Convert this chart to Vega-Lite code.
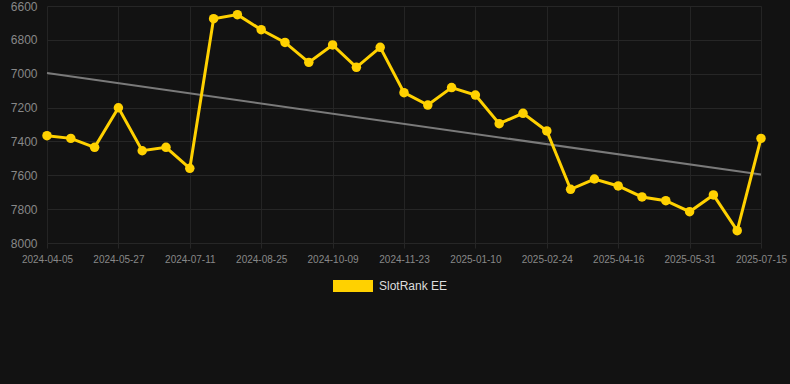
{
  "$schema": "https://vega.github.io/schema/vega-lite/v6.json",
  "width": 749,
  "height": 237,
  "autosize": {"type": "none"},
  "padding": {"left": 41, "top": 6, "right": 0, "bottom": 141},
  "background": "#121212",
  "config": {"view": {"stroke": null}, "font": "Liberation Sans"},
  "data": {"values": [
    {"date": "2024-04-05", "rank": 7366, "trend": 6996, "series": "SlotRank EE"},
    {"date": "2024-04-22", "rank": 7382, "series": "SlotRank EE"},
    {"date": "2024-05-10", "rank": 7435, "series": "SlotRank EE"},
    {"date": "2024-05-27", "rank": 7201, "series": "SlotRank EE"},
    {"date": "2024-06-11", "rank": 7455, "series": "SlotRank EE"},
    {"date": "2024-06-26", "rank": 7435, "series": "SlotRank EE"},
    {"date": "2024-07-11", "rank": 7559, "series": "SlotRank EE"},
    {"date": "2024-07-26", "rank": 6675, "series": "SlotRank EE"},
    {"date": "2024-08-10", "rank": 6651, "series": "SlotRank EE"},
    {"date": "2024-08-25", "rank": 6740, "series": "SlotRank EE"},
    {"date": "2024-09-09", "rank": 6815, "series": "SlotRank EE"},
    {"date": "2024-09-24", "rank": 6933, "series": "SlotRank EE"},
    {"date": "2024-10-09", "rank": 6830, "series": "SlotRank EE"},
    {"date": "2024-10-24", "rank": 6962, "series": "SlotRank EE"},
    {"date": "2024-11-08", "rank": 6844, "series": "SlotRank EE"},
    {"date": "2024-11-23", "rank": 7112, "series": "SlotRank EE"},
    {"date": "2024-12-09", "rank": 7185, "series": "SlotRank EE"},
    {"date": "2024-12-25", "rank": 7082, "series": "SlotRank EE"},
    {"date": "2025-01-10", "rank": 7126, "series": "SlotRank EE"},
    {"date": "2025-01-25", "rank": 7295, "series": "SlotRank EE"},
    {"date": "2025-02-09", "rank": 7234, "series": "SlotRank EE"},
    {"date": "2025-02-24", "rank": 7338, "series": "SlotRank EE"},
    {"date": "2025-03-11", "rank": 7683, "series": "SlotRank EE"},
    {"date": "2025-03-29", "rank": 7622, "series": "SlotRank EE"},
    {"date": "2025-04-16", "rank": 7663, "series": "SlotRank EE"},
    {"date": "2025-05-01", "rank": 7728, "series": "SlotRank EE"},
    {"date": "2025-05-16", "rank": 7750, "series": "SlotRank EE"},
    {"date": "2025-05-31", "rank": 7815, "series": "SlotRank EE"},
    {"date": "2025-06-15", "rank": 7716, "series": "SlotRank EE"},
    {"date": "2025-06-30", "rank": 7927, "series": "SlotRank EE"},
    {"date": "2025-07-15", "rank": 7382, "trend": 7596, "series": "SlotRank EE"}
  ]},
  "encoding": {
    "x": {
      "field": "date", "type": "ordinal", "sort": null,
      "scale": {
        "type": "point", "range": [6, 720], "padding": 0,
        "domain": ["2024-04-05", "2024-04-22", "2024-05-10", "2024-05-27", "2024-06-11", "2024-06-26", "2024-07-11", "2024-07-26", "2024-08-10", "2024-08-25", "2024-09-09", "2024-09-24", "2024-10-09", "2024-10-24", "2024-11-08", "2024-11-23", "2024-12-09", "2024-12-25", "2025-01-10", "2025-01-25", "2025-02-09", "2025-02-24", "2025-03-11", "2025-03-29", "2025-04-16", "2025-05-01", "2025-05-16", "2025-05-31", "2025-06-15", "2025-06-30", "2025-07-15"]
      },
      "axis": {
        "title": null,
        "values": ["2024-04-05", "2024-05-27", "2024-07-11", "2024-08-25", "2024-10-09", "2024-11-23", "2025-01-10", "2025-02-24", "2025-04-16", "2025-05-31", "2025-07-15"],
        "labelAngle": 0,
        "labelFontSize": 10,
        "labelColor": "#888888",
        "labelPadding": 6,
        "labelOverlap": false,
        "domain": false,
        "ticks": true, "tickSize": 5, "tickColor": "#262626",
        "grid": true, "gridColor": "#242424", "gridWidth": 1
      }
    }
  },
  "resolve": {"scale": {"y": "shared"}, "axis": {"y": "shared"}},
  "layer": [
    {
      "mark": {"type": "line", "color": "#7a7a7a", "strokeWidth": 2, "invalid": "filter"},
      "encoding": {
        "y": {
          "field": "trend", "type": "quantitative",
          "scale": {"domain": [6600, 8000], "reverse": true, "nice": false, "zero": false},
          "axis": {
            "title": null,
            "values": [6600, 6800, 7000, 7200, 7400, 7600, 7800, 8000],
            "tickCount": 8,
            "format": "d",
            "labelFontSize": 12,
            "labelColor": "#888888",
            "labelPadding": 4,
            "labelOverlap": false,
            "labelFlush": false,
            "domain": false,
            "ticks": false,
            "grid": true, "gridColor": "#262626", "gridWidth": 1
          }
        }
      }
    },
    {
      "mark": {"type": "line", "color": "#FFD100", "strokeWidth": 3},
      "encoding": {
        "y": {"field": "rank", "type": "quantitative"}
      }
    },
    {
      "mark": {"type": "point", "filled": true, "opacity": 1, "size": 90},
      "encoding": {
        "y": {"field": "rank", "type": "quantitative"},
        "color": {
          "field": "series", "type": "nominal",
          "scale": {"range": ["#FFD100"]},
          "legend": {
            "title": null,
            "orient": "none",
            "legendX": 292,
            "legendY": 260,
            "symbolType": "M-1,-0.3L1,-0.3L1,0.3L-1,0.3Z",
            "symbolSize": 1600,
            "symbolStrokeWidth": 0,
            "labelFontSize": 12,
            "labelColor": "#dddddd",
            "labelOffset": 6
          }
        }
      }
    }
  ]
}
